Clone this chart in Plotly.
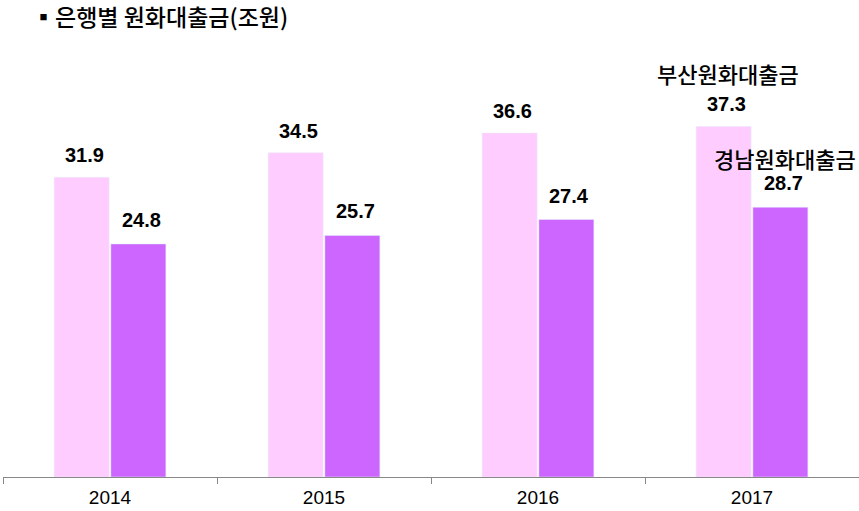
import plotly.graph_objects as go

years = ["2014", "2015", "2016", "2017"]
busan = [31.9, 34.5, 36.6, 37.3]
gyeongnam = [24.8, 25.7, 27.4, 28.7]
series_names = ["부산원화대출금", "경남원화대출금"]
title_text = "▪은행별 원화대출금(조원)"

PINK = "#FFCCFF"
PURPLE = "#CC66FF"
KFONT = "Noto Sans CJK KR"
NFONT = "Liberation Sans, Arial"

n = len(years)
xpos = list(range(n))

fig = go.Figure()
fig.add_trace(go.Bar(x=xpos, y=busan, name=series_names[0], marker_color=PINK))
fig.add_trace(go.Bar(x=xpos, y=gyeongnam, name=series_names[1], marker_color=PURPLE))

ann = []
for i in xpos:
    ann.append(dict(x=i, y=busan[i], xref="x", yref="y", text="<b>%.1f</b>" % busan[i], showarrow=False,
                    xshift=-26, yshift=22, yanchor="middle",
                    font=dict(family=NFONT, size=20, color="black")))
    ann.append(dict(x=i, y=gyeongnam[i], xref="x", yref="y", text="<b>%.1f</b>" % gyeongnam[i], showarrow=False,
                    xshift=31, yshift=24, yanchor="middle",
                    font=dict(family=NFONT, size=20, color="black")))
ann.append(dict(x=n - 1, y=busan[-1], xref="x", yref="y", text=series_names[0], showarrow=False,
                xshift=-24, yshift=53, yanchor="middle",
                font=dict(family=KFONT, size=22, color="black", weight=500)))
ann.append(dict(x=n - 1, y=gyeongnam[-1], xref="x", yref="y", text=series_names[1], showarrow=False,
                xshift=33, yshift=49, yanchor="middle",
                font=dict(family=KFONT, size=22, color="black", weight=500)))

fig.update_layout(
    width=859, height=511,
    margin=dict(l=3, r=0, t=40, b=34),
    paper_bgcolor="white", plot_bgcolor="white",
    showlegend=False,
    barmode="group", bargap=0.47, bargroupgap=0.03,
    annotations=ann,
    title=dict(text=title_text, x=32/859, xanchor="left", y=1-18/511, yanchor="middle",
               font=dict(family=KFONT, size=23, color="black", weight=500)),
    xaxis=dict(range=[-0.5, n - 0.5], showline=True, linecolor="#888888", linewidth=1,
               tickvals=xpos, ticktext=years, ticks="", ticklabelstandoff=3,
               minor=dict(tickvals=[k - 0.5 for k in range(n + 1)], ticks="outside", ticklen=6,
                          tickcolor="#888888", showgrid=False),
               tickfont=dict(family=NFONT, size=19, color="black"), showgrid=False, zeroline=False),
    yaxis=dict(range=[0, 46.5], visible=False, showgrid=False, zeroline=False),
)

fig.write_html("out.html")
